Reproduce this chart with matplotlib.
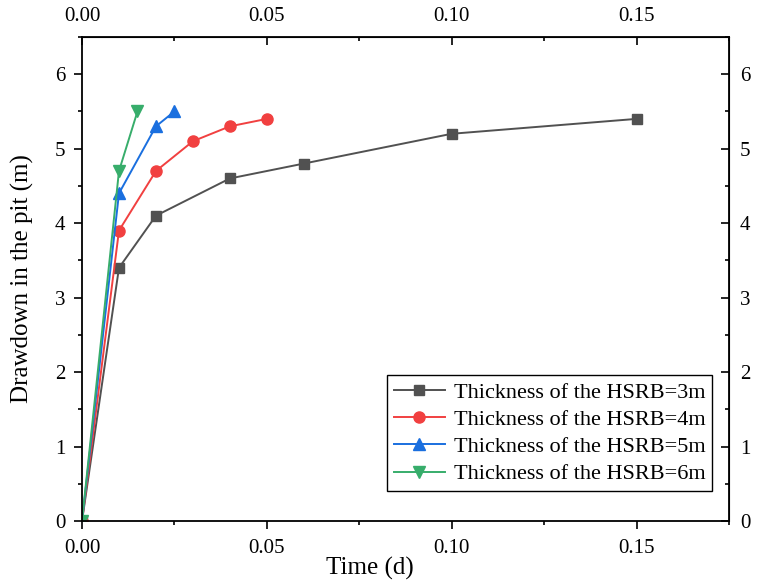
import matplotlib
matplotlib.use('Agg')
import matplotlib.pyplot as plt
from matplotlib.ticker import MultipleLocator, FormatStrFormatter

plt.rcParams['font.family'] = ['Liberation Serif', 'DejaVu Serif']
plt.rcParams['font.size'] = 15

t_3m = [0, 0.01, 0.02, 0.04, 0.06, 0.10, 0.15]
s_3m = [0, 3.4, 4.1, 4.6, 4.8, 5.2, 5.4]
t_4m = [0, 0.01, 0.02, 0.03, 0.04, 0.05]
s_4m = [0, 3.9, 4.7, 5.1, 5.3, 5.4]
t_5m = [0, 0.01, 0.02, 0.025]
s_5m = [0, 4.4, 5.3, 5.5]
t_6m = [0, 0.01, 0.015]
s_6m = [0, 4.7, 5.5]

fig = plt.figure(figsize=(7.58, 5.85), dpi=100)
ax = fig.add_axes([0.1082, 0.1094, 0.8535, 0.8274])

ax.plot(t_3m, s_3m, color='#515151', marker='s', ms=7, lw=1.4, label='Thickness of the HSRB=3m')
ax.plot(t_4m, s_4m, color='#F14040', marker='o', ms=8, lw=1.4, label='Thickness of the HSRB=4m')
ax.plot(t_5m, s_5m, color='#1A6FDF', marker='^', ms=8, lw=1.4, label='Thickness of the HSRB=5m')
ax.plot(t_6m, s_6m, color='#37AD6B', marker='v', ms=8, lw=1.4, label='Thickness of the HSRB=6m')

ax.set_xlim(0, 0.175)
ax.set_ylim(0, 6.5)
ax.xaxis.set_major_locator(MultipleLocator(0.05))
ax.xaxis.set_minor_locator(MultipleLocator(0.025))
ax.xaxis.set_major_formatter(FormatStrFormatter('%.2f'))
ax.yaxis.set_major_locator(MultipleLocator(1))
ax.yaxis.set_minor_locator(MultipleLocator(0.5))
ax.tick_params(which='major', direction='out', length=6, width=1.2)
ax.tick_params(which='minor', direction='out', length=3, width=1.2)
ax.tick_params(axis='x', which='major', pad=7)
ax.tick_params(axis='y', which='major', pad=6)
for sp in ax.spines.values():
    sp.set_linewidth(1.3)

top = ax.secondary_xaxis('top')
top.xaxis.set_major_locator(MultipleLocator(0.05))
top.xaxis.set_minor_locator(MultipleLocator(0.025))
top.xaxis.set_major_formatter(FormatStrFormatter('%.2f'))
top.tick_params(which='major', direction='in', length=6, width=1.2, pad=8)
top.tick_params(which='minor', direction='in', length=3, width=1.2)

right = ax.secondary_yaxis('right')
right.yaxis.set_major_locator(MultipleLocator(1))
right.yaxis.set_minor_locator(MultipleLocator(0.5))
right.tick_params(which='major', direction='in', length=6, width=1.2, pad=8)
right.tick_params(which='minor', direction='in', length=3, width=1.2)

ax.set_xlabel('Time (d)', fontsize=18)
ax.xaxis.set_label_coords(0.445, -0.075)
ax.set_ylabel('Drawdown in the pit (m)', fontsize=18)
ax.yaxis.set_label_coords(-0.074, 0.5)

leg = ax.legend(loc='lower right', bbox_to_anchor=(0.974, 0.062), borderaxespad=0,
                frameon=True, fancybox=False, edgecolor='black', framealpha=1,
                handlelength=2.3, borderpad=0.3, labelspacing=0.3, handletextpad=0.4,
                fontsize=16)
leg.get_frame().set_linewidth(1.0)

fig.savefig('out.png', dpi=100)
